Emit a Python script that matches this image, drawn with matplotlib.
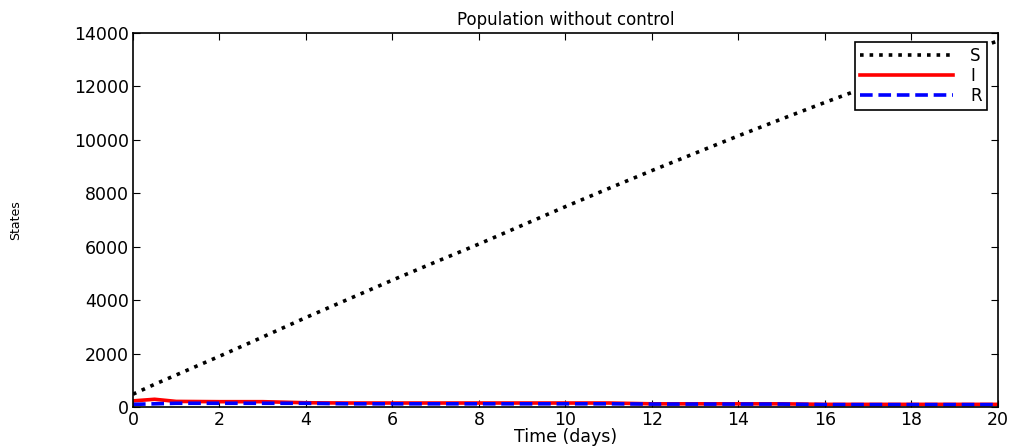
import matplotlib.pyplot as plt
import numpy as np

plt.rcParams['font.family'] = ['DejaVu Sans']

# time points (days)
t = [0, 0.5, 1, 2, 3, 4, 5, 6, 7, 8, 9, 10, 11, 12, 13, 14, 15, 16, 17, 18, 19, 20]

S = [480, 850, 1200, 1900, 2620, 3350, 4050, 4750, 5430, 6100, 6800, 7500,
     8180, 8850, 9500, 10150, 10780, 11400, 12000, 12600, 13150, 13700]
I = [230, 290, 210, 200, 200, 160, 150, 150, 150, 150, 150, 150,
     150, 120, 120, 120, 120, 100, 100, 100, 100, 100]
R = [100, 120, 140, 140, 140, 140, 120, 120, 120, 120, 120, 120,
     120, 110, 110, 110, 110, 90, 90, 90, 90, 90]

fig = plt.figure(figsize=(10.15, 4.46), dpi=100)
ax = fig.add_axes([0.131, 0.0874, 0.852, 0.8386])

ax.plot(t, S, color='black', linestyle=':', lw=2.6, label='S')
ax.plot(t, I, color='red', linestyle='-', lw=2.6, label='I')
ax.plot(t, R, color='blue', linestyle='--', lw=2.6, dashes=(3.5, 1.6), label='R')

ax.set_xlim(0, 20)
ax.set_ylim(0, 14000)
ax.set_xticks(np.arange(0, 21, 2))
ax.set_yticks(np.arange(0, 14001, 2000))
ax.tick_params(direction='in', top=True, right=True, labelsize=12.5, length=5, pad=3)
for s in ax.spines.values():
    s.set_linewidth(1.2)

ax.set_title('Population without control', fontsize=12, pad=6)
ax.set_xlabel('Time (days)', fontsize=12.5, labelpad=-1)
ax.set_ylabel('States', fontsize=9)
ax.yaxis.set_label_coords(-0.128, 0.5)

leg = ax.legend(loc='upper right', bbox_to_anchor=(0.987, 0.976), fontsize=12,
                handlelength=5.6, fancybox=False, framealpha=1, edgecolor='black',
                borderpad=0.3, labelspacing=0.12, handletextpad=1.0,
                borderaxespad=0)
leg.get_frame().set_linewidth(1.2)

fig.savefig('out.png', dpi=100)
